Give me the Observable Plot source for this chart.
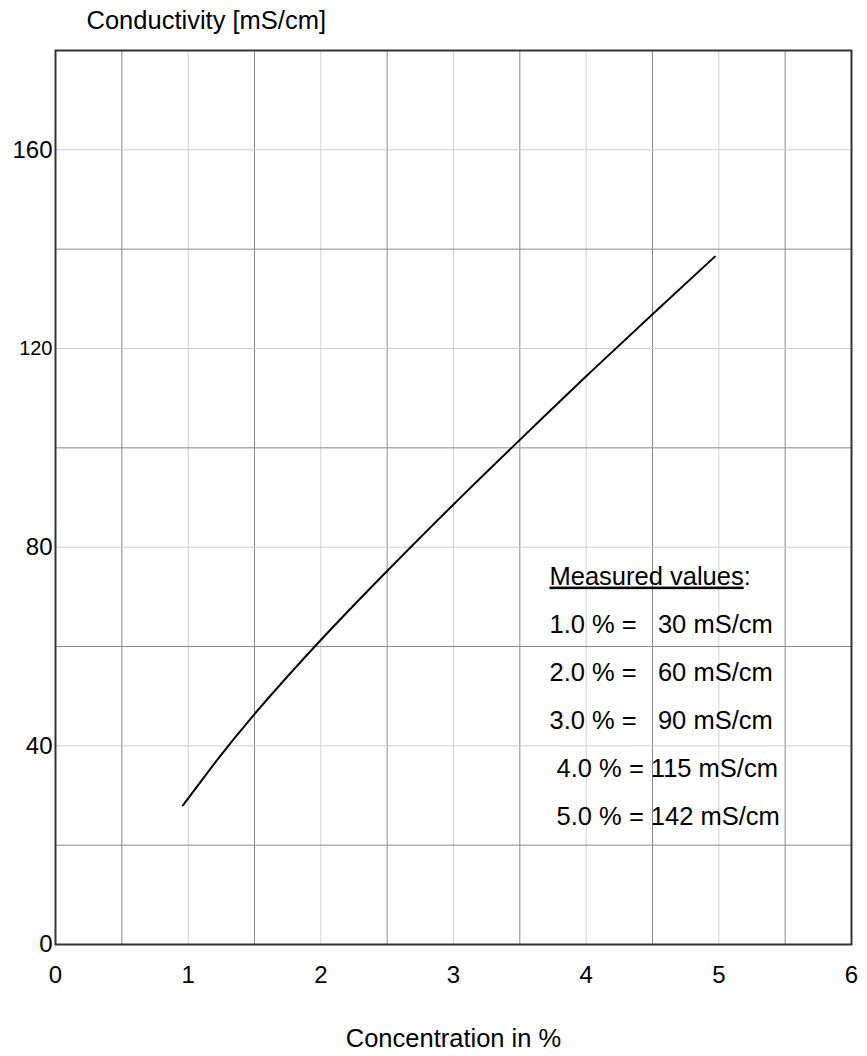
<!DOCTYPE html>
<html><head><meta charset="utf-8">
<script src="https://cdn.jsdelivr.net/npm/d3@7"></script>
<script src="https://cdn.jsdelivr.net/npm/@observablehq/plot@0.6"></script>
<style>
html,body{margin:0;padding:0;background:#fff;}
#chart svg{display:block;}
</style></head><body><div id="chart"></div>
<script>
// Curve
const concentration = [0.96, 1.2, 1.5, 2.0, 2.5, 3.0, 3.5, 4.0, 4.5, 4.97];
const conductivity  = [28.0, 36.5, 46.4, 61.3, 75.2, 88.6, 101.6, 114.4, 126.9, 138.5];
// Axes
const xTicks = [0, 1, 2, 3, 4, 5, 6];
const yTicks = [0, 40, 80, 120, 160];
const xGridLight = [1, 2, 3, 4, 5];
const xGridDark = [0.5, 1.5, 2.5, 3.5, 4.5, 5.5];
const yGridLight = [40, 80, 120, 160];
const yGridDark = [20, 60, 100, 140];
// Annotation values
const measuredPct = [1.0, 2.0, 3.0, 4.0, 5.0];
const measuredVal = [30, 60, 90, 115, 142];
const yTitle = "Conductivity [mS/cm]";
const xTitle = "Concentration in %";
const legendTitle = "Measured values:";

const nb = "\u00a0";
const legendLines = [legendTitle, ...measuredPct.map((p, i) => {
  const v = measuredVal[i];
  const wide = v >= 100;
  return (wide ? nb : "") + p.toFixed(1) + nb + "%" + nb + "=" + (wide ? nb : nb + nb + nb) + v + nb + "mS/cm";
})];

const curveData = concentration.map((c, i) => ({c, v: conductivity[i]}));

const plot = Plot.plot({
  width: 867,
  height: 1056,
  marginLeft: 55,
  marginRight: 16,
  marginTop: 50,
  marginBottom: 112,
  x: {domain: [0, 6], axis: null},
  y: {domain: [0, 180], axis: null},
  style: {fontFamily: "'Liberation Sans', Arial, sans-serif", background: "#fff", color: "#000"},
  marks: [
    Plot.ruleX(xGridLight, {x: d => d, stroke: "#cfcfcf", strokeWidth: 1}),
    Plot.ruleX(xGridDark, {x: d => d, stroke: "#8a8a8a", strokeWidth: 1}),
    Plot.ruleY(yGridLight, {y: d => d, stroke: "#cfcfcf", strokeWidth: 1}),
    Plot.ruleY(yGridDark, {y: d => d, stroke: "#8a8a8a", strokeWidth: 1}),
    Plot.frame({stroke: "#333", strokeWidth: 2}),
    Plot.line(curveData, {x: "c", y: "v", curve: "natural", stroke: "#000", strokeWidth: 2}),
    Plot.text(xTicks, {x: d => d, frameAnchor: "bottom", dy: 31, text: d => String(d), fontSize: 24, lineAnchor: "middle", fill: "#000"}),
    Plot.text(yTicks, {y: d => d, frameAnchor: "left", dx: -3, textAnchor: "end", text: d => String(d), fontSize: d => d === 120 ? 20 : 24, lineAnchor: "middle", fill: "#000"}),
    Plot.text([yTitle], {frameAnchor: "top-left", dx: 31, dy: -30, textAnchor: "start", text: d => d, fontSize: 25.5, lineAnchor: "middle", fill: "#000"}),
    Plot.text([xTitle], {frameAnchor: "bottom", dy: 94, text: d => d, fontSize: 25.5, lineAnchor: "middle", fill: "#000"}),
    Plot.text([legendLines.join("\n")], {frameAnchor: "top-left", dx: 494, dy: 500, textAnchor: "start", lineAnchor: "top", lineHeight: 48 / 25.5, text: d => d, fontSize: 25.5, fill: "#000"})
  ]
});

// underline "Measured values" (colon not underlined)
plot.querySelectorAll("tspan").forEach(t => {
  if (t.textContent === legendTitle) {
    const main = legendTitle.replace(/:$/, "");
    t.textContent = "";
    const u = document.createElementNS("http://www.w3.org/2000/svg", "tspan");
    u.setAttribute("text-decoration", "underline");
    u.setAttribute("style", "text-decoration: underline;");
    u.textContent = main;
    t.appendChild(u);
    t.appendChild(document.createTextNode(":"));
  }
});
document.getElementById("chart").appendChild(plot);
</script>
</body></html>
